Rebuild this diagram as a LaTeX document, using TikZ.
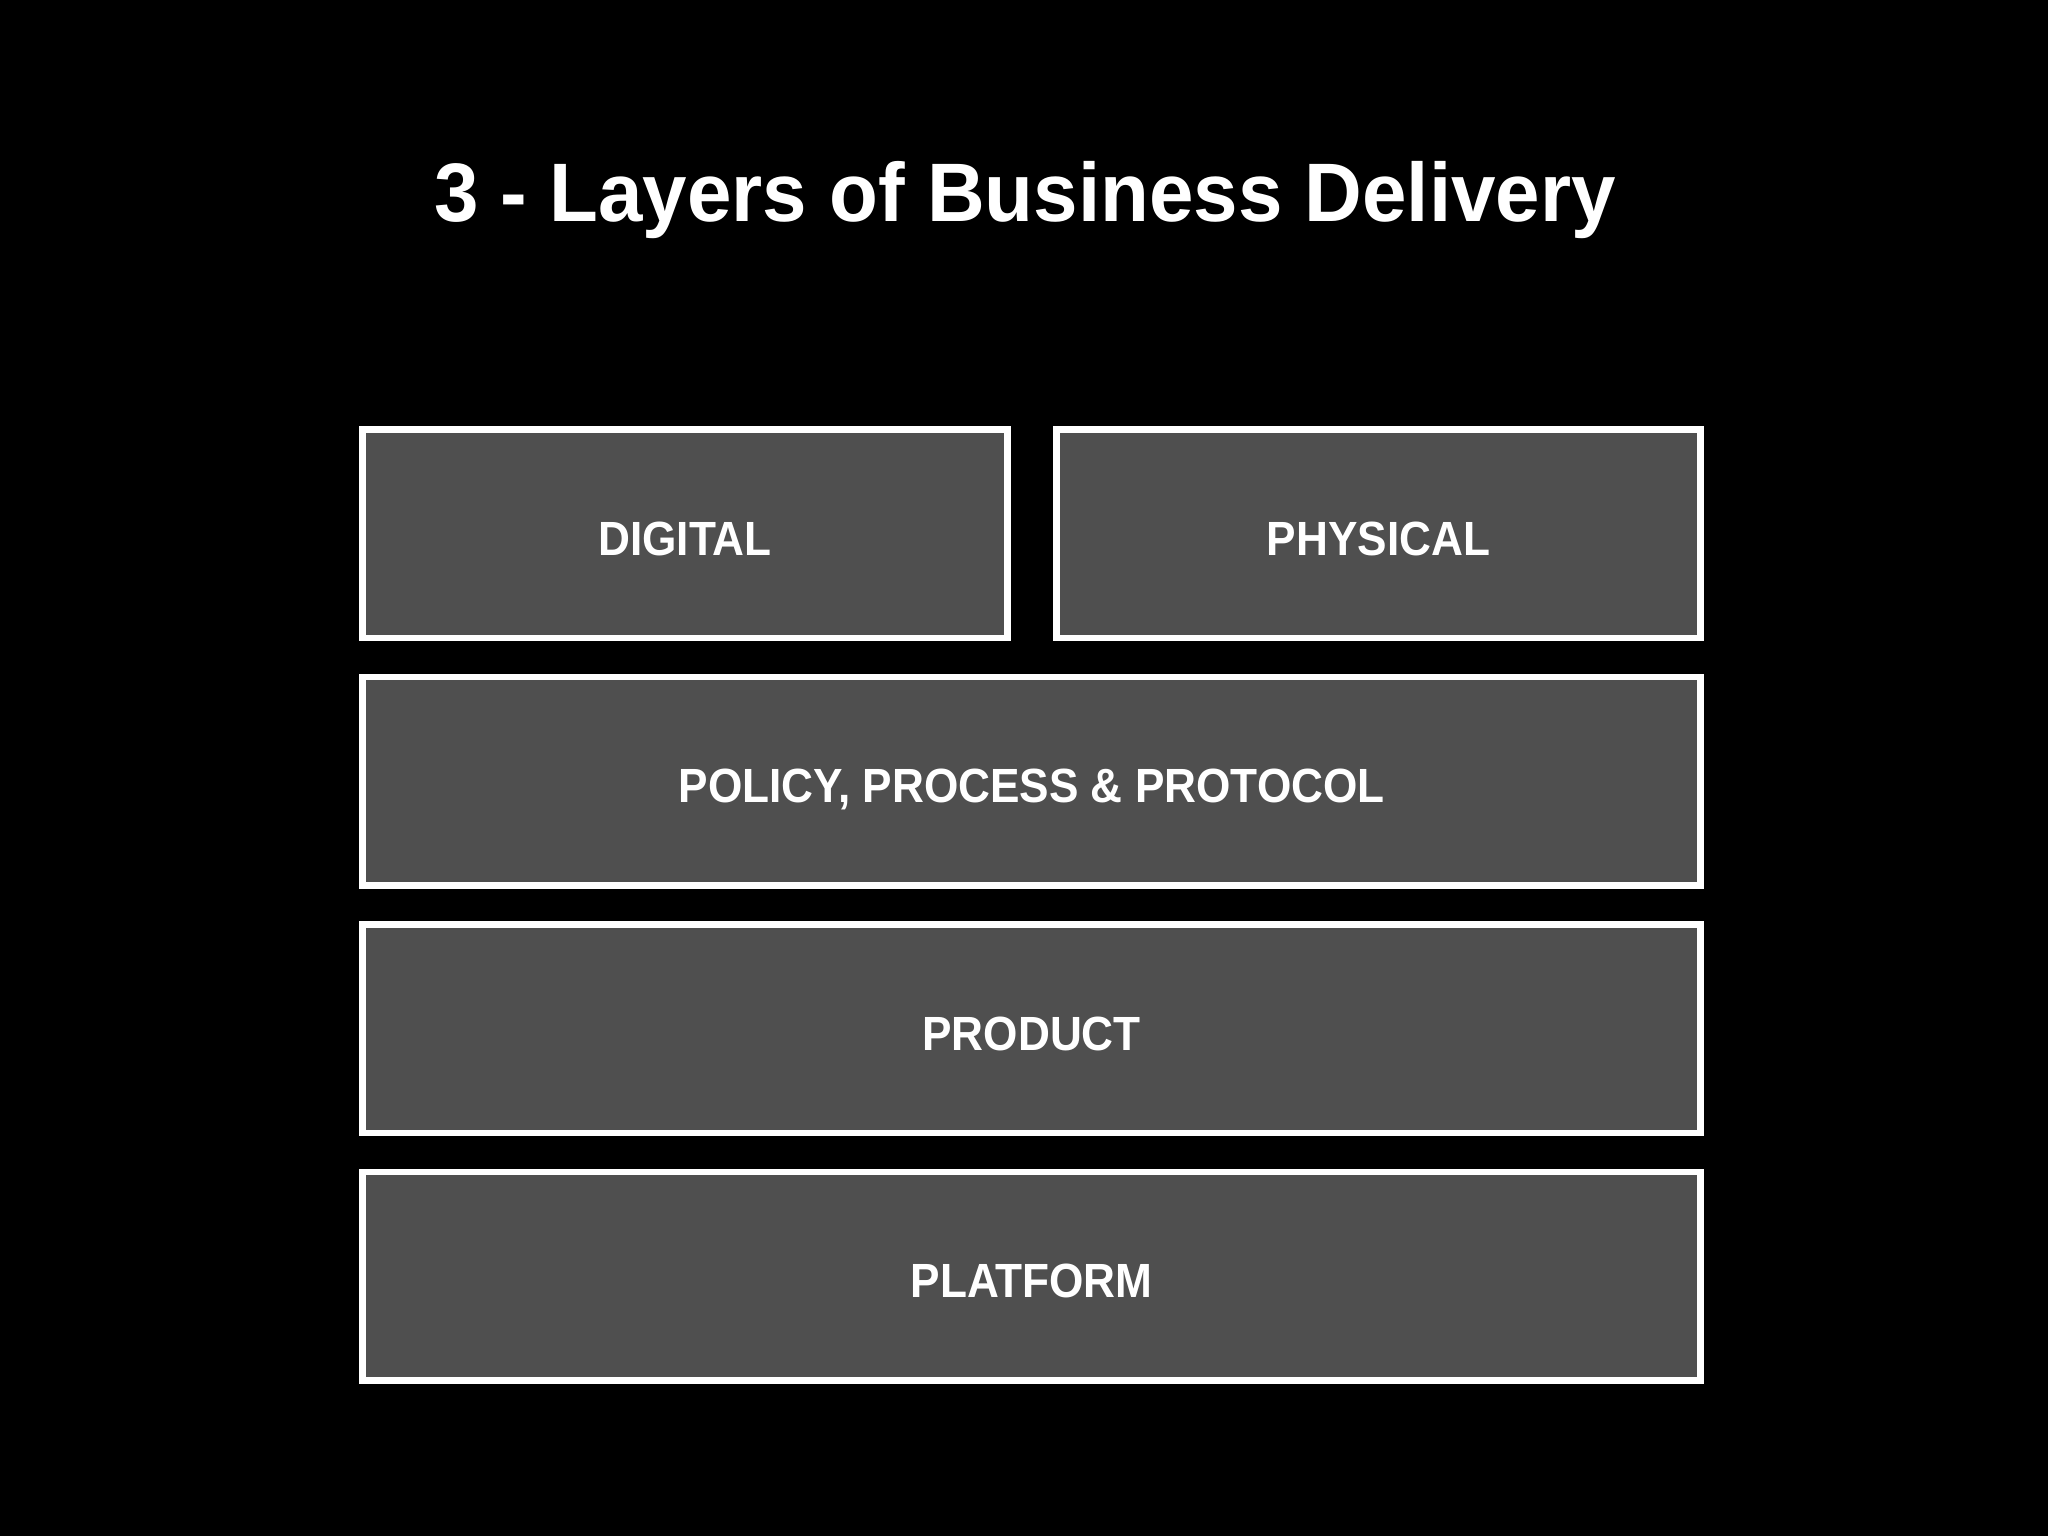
\documentclass[tikz,border=0pt]{standalone}
\usepackage{fontspec}
\setmainfont{Liberation Sans}[FakeStretch=0.92]
\newfontfamily\titlefont{Liberation Sans}[FakeStretch=0.963]
\definecolor{boxgray}{HTML}{4F4F4F}
\begin{document}
\begin{tikzpicture}[x=1pt,y=-1pt,
  layerbox/.style={draw=white,line width=6.5pt,fill=boxgray,inner sep=0pt,
    minimum height=208.5pt,text height=43pt,text depth=0pt,text=white,
    font=\fontsize{48}{56}\selectfont\bfseries}]
\fill[black] (0,0) rectangle (2048,1536);
\useasboundingbox (0,0) rectangle (2048,1536);
\node[text=white,font=\titlefont\fontsize{83}{96}\selectfont\bfseries,anchor=base] (title) at (1025,221.7) {3 - Layers of Business Delivery};
\node[layerbox,minimum width=645pt] (digital) at (685.1,533.5) {DIGITAL};
\node[layerbox,minimum width=644pt] (physical) at (1378.6,533.5) {PHYSICAL};
\node[layerbox,minimum width=1338pt] (policy) at (1031.6,781) {POLICY, PROCESS \& PROTOCOL};
\node[layerbox,minimum width=1338pt] (product) at (1031.6,1028.5) {PRODUCT};
\node[layerbox,minimum width=1338pt] (platform) at (1031.6,1276) {PLATFORM};
\end{tikzpicture}
\end{document}
